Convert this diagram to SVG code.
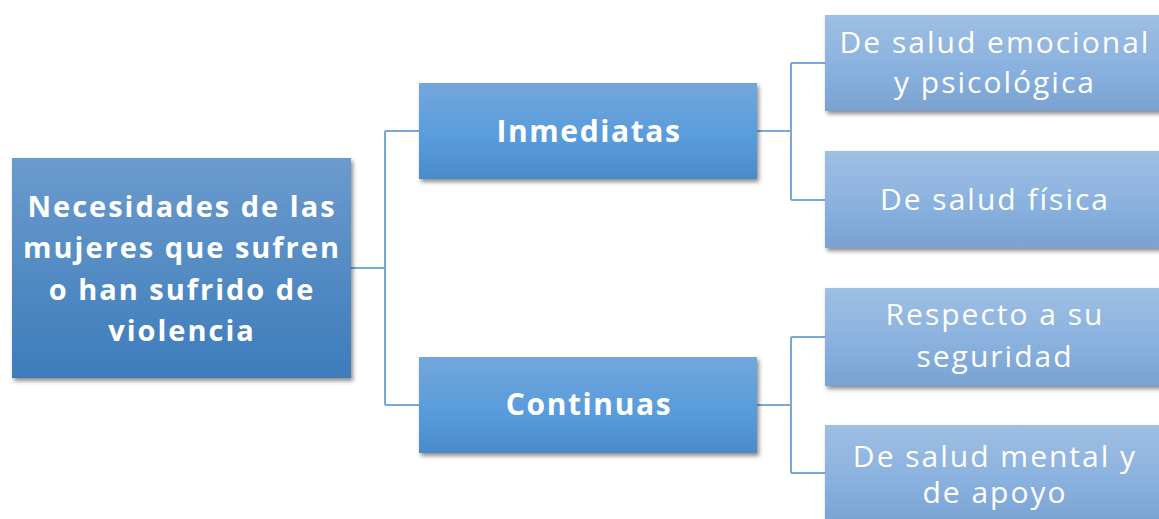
<svg xmlns="http://www.w3.org/2000/svg" width="1159" height="519" viewBox="0 0 1159 519">
<style>
.t{font-family:"Open Sans","DejaVu Sans",sans-serif;fill:#fff;text-anchor:middle}
.b{font-weight:bold}
.r{letter-spacing:2px}
.m{letter-spacing:1.6px}
.l{letter-spacing:2px}
.c{fill:none;stroke:#7ba7d8;stroke-width:2}
</style>
<defs>
<linearGradient id="gRoot" x1="0" y1="0" x2="0" y2="1"><stop offset="0" stop-color="#6b9bcd"/><stop offset="1" stop-color="#3d7cbb"/></linearGradient>
<linearGradient id="gMid" x1="0" y1="0" x2="0" y2="1"><stop offset="0" stop-color="#74a7db"/><stop offset="0.6" stop-color="#579bdc"/><stop offset="1" stop-color="#4a8acb"/></linearGradient>
<linearGradient id="gLeaf" x1="0" y1="0" x2="0" y2="1"><stop offset="0" stop-color="#9fbfe4"/><stop offset="0.6" stop-color="#88b0de"/><stop offset="1" stop-color="#7aa2d0"/></linearGradient>
<filter id="sh" x="-10%" y="-10%" width="130%" height="140%"><feDropShadow dx="2" dy="3" stdDeviation="2" flood-color="#000" flood-opacity="0.45"/></filter>
</defs>
<rect width="1159" height="519" fill="#fff"/>
<g id="connectors">
<path class="c" d="M351,268 H385 M385,131 V405 M385,131 H419 M385,405 H419"/>
<path class="c" d="M757,131 H791 M791,63 V200 M791,63 H825 M791,200 H825"/>
<path class="c" d="M757,405 H791 M791,337 V473 M791,337 H825 M791,473 H825"/>
</g>
<g id="root">
<rect x="12" y="158" width="339" height="220" fill="url(#gRoot)" filter="url(#sh)"/>
<text class="t b r" font-size="29"><tspan x="182" y="217">Necesidades de las</tspan><tspan x="182" y="258">mujeres que sufren</tspan><tspan x="182" y="300">o han sufrido de</tspan><tspan x="182" y="341">violencia</tspan></text>
</g>
<g id="inmediatas">
<rect x="419" y="83" width="338" height="96" fill="url(#gMid)" filter="url(#sh)"/>
<text class="t b m" x="589" y="142" font-size="30">Inmediatas</text>
</g>
<g id="continuas">
<rect x="419" y="357" width="338" height="96" fill="url(#gMid)" filter="url(#sh)"/>
<text class="t b m" x="589" y="415" font-size="30">Continuas</text>
</g>
<g id="emocional">
<rect x="825" y="15" width="345" height="96" fill="url(#gLeaf)" filter="url(#sh)"/>
<text class="t l" font-size="30"><tspan x="995" y="53">De salud emocional</tspan><tspan x="995" y="93">y psicológica</tspan></text>
</g>
<g id="fisica">
<rect x="825" y="151" width="345" height="97" fill="url(#gLeaf)" filter="url(#sh)"/>
<text class="t l" x="995" y="210" font-size="30">De salud física</text>
</g>
<g id="seguridad">
<rect x="825" y="288" width="345" height="98" fill="url(#gLeaf)" filter="url(#sh)"/>
<text class="t l" font-size="30"><tspan x="995" y="325">Respecto a su</tspan><tspan x="995" y="367">seguridad</tspan></text>
</g>
<g id="mental">
<rect x="825" y="425" width="345" height="100" fill="url(#gLeaf)" filter="url(#sh)"/>
<text class="t l" font-size="30"><tspan x="995" y="467">De salud mental y</tspan><tspan x="995" y="503">de apoyo</tspan></text>
</g>
</svg>
